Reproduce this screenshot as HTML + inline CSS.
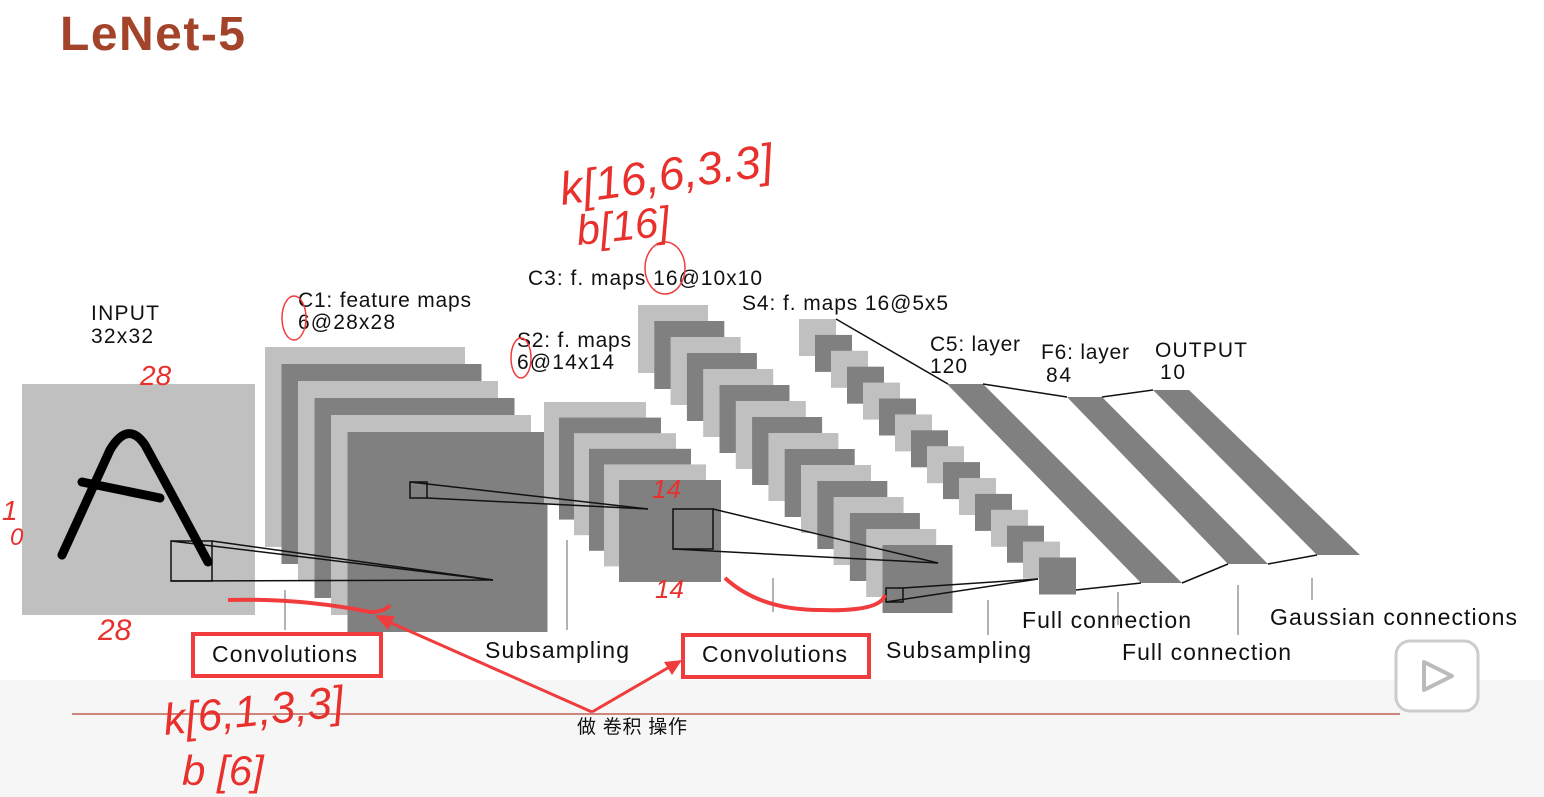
<!DOCTYPE html>
<html><head><meta charset="utf-8"><style>
html,body{margin:0;padding:0;background:#fff;}
#wrap{position:relative;width:1544px;height:797px;overflow:hidden;background:#fff;}
svg{position:absolute;left:0;top:0;}
text{font-family:"Liberation Sans","Noto Sans CJK SC",sans-serif;}
</style></head><body>
<div id="wrap">
<svg id="s" width="1544" height="797" viewBox="0 0 1544 797">
<rect x="0" y="680" width="1544" height="117" fill="#f6f6f6"/>
<text x="60" y="50" font-size="48" font-weight="bold" fill="#a3432a" textLength="185">LeNet-5</text>
<g id="stacks"></g>
<g fill="#808080">
<polygon points="947,384 983,384 1182,583 1141,583"/>
<polygon points="1067,397 1102,397 1268,564 1228,564"/>
<polygon points="1153,390 1189,390 1360,555 1317,555"/>
</g>
<g stroke="#111" stroke-width="1.5" fill="none">
<line x1="836" y1="319" x2="948" y2="384"/>
<line x1="983" y1="384" x2="1067" y2="397"/>
<line x1="1102" y1="397" x2="1153" y2="390"/>
<line x1="1076" y1="590" x2="1141" y2="583"/>
<line x1="1182" y1="583" x2="1228" y2="564"/>
<line x1="1268" y1="564" x2="1317" y2="555"/>
<rect x="171" y="541" width="41" height="40"/>
<line x1="171" y1="541" x2="493" y2="580"/><line x1="212" y1="541" x2="493" y2="580"/><line x1="171" y1="581" x2="493" y2="580"/>
<rect x="410" y="482" width="17" height="16"/>
<line x1="410" y1="482" x2="648" y2="509"/><line x1="427" y1="498" x2="648" y2="509"/>
<rect x="673" y="509" width="40" height="40"/>
<line x1="713" y1="509" x2="938" y2="563"/><line x1="673" y1="549" x2="938" y2="563"/>
<rect x="886" y="588" width="17" height="14"/>
<line x1="903" y1="588" x2="1038" y2="579"/><line x1="886" y1="602" x2="1038" y2="579"/>
</g>
<g stroke="#999" stroke-width="1.5">
<line x1="285" y1="590" x2="285" y2="630"/><line x1="567" y1="540" x2="567" y2="630"/>
<line x1="773" y1="578" x2="773" y2="612"/><line x1="988" y1="600" x2="988" y2="635"/>
<line x1="1118" y1="592" x2="1118" y2="625"/><line x1="1238" y1="585" x2="1238" y2="635"/>
<line x1="1312" y1="578" x2="1312" y2="600"/>
</g>
<g font-size="21" fill="#111">
<text x="91" y="320" textLength="68">INPUT</text><text x="91" y="343" textLength="62">32x32</text>
<text x="298" y="307" textLength="173">C1: feature maps</text><text x="298" y="329" textLength="97">6@28x28</text>
<text x="517" y="347" textLength="114">S2: f. maps</text><text x="517" y="369" textLength="97">6@14x14</text>
<text x="528" y="285" textLength="234">C3: f. maps 16@10x10</text>
<text x="742" y="310" textLength="206">S4: f. maps 16@5x5</text>
<text x="930" y="351" textLength="90">C5: layer</text><text x="930" y="373" textLength="37">120</text>
<text x="1041" y="359" textLength="88">F6: layer</text><text x="1046" y="382" textLength="25">84</text>
<text x="1155" y="357" textLength="92">OUTPUT</text><text x="1160" y="379" textLength="25">10</text>
<text x="485" y="658" font-size="23" textLength="144">Subsampling</text>
<text x="886" y="658" font-size="23" textLength="145">Subsampling</text>
<text x="212" y="662" font-size="23" textLength="145">Convolutions</text>
<text x="702" y="662" font-size="23" textLength="145">Convolutions</text>
<text x="1022" y="628" font-size="23" textLength="169">Full connection</text>
<text x="1122" y="660" font-size="23" textLength="169">Full connection</text>
<text x="1270" y="625" font-size="23" textLength="247">Gaussian connections</text>
</g>
<g stroke="#000" stroke-width="9" fill="none" stroke-linecap="round">
<path d="M62,555 L110,450 Q128,420 145,445 Q175,500 208,562"/>
<line x1="82" y1="482" x2="160" y2="498"/>
</g>
<g fill="none" stroke="#f03c3c">
<rect x="193" y="634" width="188" height="42" stroke-width="4"/>
<rect x="683" y="635" width="186" height="42" stroke-width="4"/>
<path d="M228,600 Q300,598 370,612 Q385,612 390,605" stroke-width="4"/>
<path d="M725,578 Q760,610 820,610 Q880,612 885,595" stroke-width="4"/>
<line x1="592" y1="712" x2="380" y2="618" stroke-width="3"/>
<polygon points="375,615 395,616 388,630" fill="#f03c3c" stroke="none"/>
<line x1="592" y1="712" x2="678" y2="662" stroke-width="3"/>
<polygon points="682,660 664,662 672,675" fill="#f03c3c" stroke="none"/>
<ellipse cx="294" cy="318" rx="12" ry="22" stroke-width="1.5"/>
<ellipse cx="521" cy="358" rx="10" ry="20" stroke-width="1.5"/>
<ellipse cx="665" cy="268" rx="20" ry="26" stroke-width="1.5"/>
</g>
<line x1="72" y1="714" x2="1400" y2="714" stroke="#c06050" stroke-width="1.5"/>
<g fill="#e8302c" font-style="italic" font-family="Liberation Serif,serif">
<text x="562" y="205" font-size="46" transform="rotate(-8 562 205)">k[16,6,3.3]</text>
<text x="578" y="245" font-size="42" transform="rotate(-6 578 245)">b[16]</text>
<text x="140" y="385" font-size="28">28</text>
<text x="98" y="640" font-size="30">28</text>
<text x="2" y="520" font-size="28">1</text><text x="10" y="545" font-size="24">0</text>
<text x="652" y="498" font-size="26">14</text>
<text x="655" y="598" font-size="26">14</text>
<text x="165" y="735" font-size="44" transform="rotate(-6 165 735)">k[6,1,3,3]</text>
<text x="182" y="785" font-size="42">b [6]</text>
</g>
<text x="577" y="733" font-size="19" fill="#111" textLength="110">做 卷积 操作</text>
<g>
<rect x="1396" y="641" width="82" height="70" rx="14" fill="#fff" stroke="#ccc" stroke-width="3"/>
<path d="M1424,662 L1452,676 L1424,690 Z" fill="#fff" stroke="#bbb" stroke-width="4" stroke-linejoin="round"/>
</g>
</svg>
</div>
<script>
const g=document.getElementById('stacks');
const NS='http://www.w3.org/2000/svg';
const stackNames=['c1-stack','s2-stack','c3-stack','s4-stack'];
const stackCounts=[6,6,16,16];
const specs=[[265,347,16.5,17,200,200],[544,402,15,15.6,102,102],[638,305,16.3,16,70,68],[799,319,16,15.9,37,37]];
const inp=document.createElementNS(NS,'rect');
inp.setAttribute('x',22);inp.setAttribute('y',384);inp.setAttribute('width',233);inp.setAttribute('height',231);inp.setAttribute('fill','#c0c0c0');


g.appendChild(inp);
specs.forEach((s,k)=>{
  const grp=document.createElementNS(NS,'g');
  
  
  for(let i=0;i<stackCounts[k];i++){
    const r=document.createElementNS(NS,'rect');
    r.setAttribute('x',s[0]+i*s[2]);r.setAttribute('y',s[1]+i*s[3]);
    r.setAttribute('width',s[4]);r.setAttribute('height',s[5]);
    r.setAttribute('fill',i%2?'#808080':'#c0c0c0');
    
    
    grp.appendChild(r);
  }
  g.appendChild(grp);
});
</script>
</body></html>
